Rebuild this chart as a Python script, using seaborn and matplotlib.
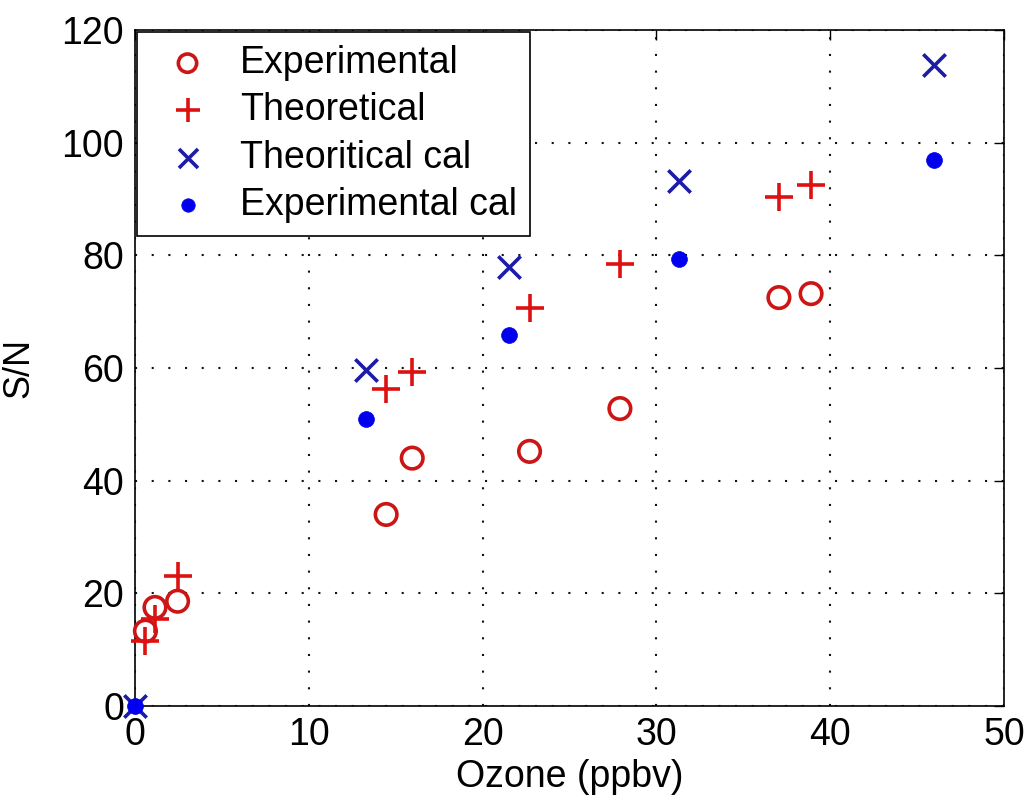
import matplotlib
matplotlib.use("Agg")
import matplotlib.pyplot as plt
import seaborn as sns
import pandas as pd

# Ozone concentration (ppbv) and signal-to-noise ratios
ozone_meas = [0.6, 1.15, 2.45, 14.45, 15.95, 22.7, 27.9, 37.05, 38.9]
sn_experimental = [13.3, 17.5, 18.6, 34.0, 44.0, 45.2, 52.8, 72.5, 73.2]
sn_theoretical = [11.5, 15.5, 23.0, 56.3, 59.3, 70.6, 78.4, 90.3, 92.5]

ozone_cal = [0.0, 13.3, 21.5, 31.3, 46.0]
sn_theoretical_cal = [0.0, 59.6, 78.0, 93.2, 113.8]
sn_experimental_cal = [0.0, 50.9, 65.8, 79.4, 97.0]

series_names = ["Experimental", "Theoretical", "Theoritical cal", "Experimental cal"]

frames = [
    pd.DataFrame({"x": ozone_meas, "y": sn_experimental, "series": series_names[0]}),
    pd.DataFrame({"x": ozone_meas, "y": sn_theoretical, "series": series_names[1]}),
    pd.DataFrame({"x": ozone_cal, "y": sn_theoretical_cal, "series": series_names[2]}),
    pd.DataFrame({"x": ozone_cal, "y": sn_experimental_cal, "series": series_names[3]}),
]
df = pd.concat(frames, ignore_index=True)

sns.set_theme(style="white")
plt.rcParams["font.family"] = ["Liberation Sans", "DejaVu Sans"]
plt.rcParams["text.color"] = "black"
plt.rcParams["axes.labelcolor"] = "black"
plt.rcParams["xtick.color"] = "black"
plt.rcParams["ytick.color"] = "black"

fig = plt.figure(figsize=(10.29, 8.0), dpi=100)
ax = fig.add_axes([135 / 1029, 1 - 706 / 800, (1004 - 135) / 1029, (706 - 30) / 800])

styles = {
    "Experimental": dict(marker="o", s=240, facecolor="none", edgecolor="#cc1515", linewidth=2.6),
    "Theoretical": dict(marker="+", s=420, color="#dd1111", linewidth=2.6),
    "Theoritical cal": dict(marker="x", s=260, color="#1c1ca8", linewidth=2.6),
    "Experimental cal": dict(marker="o", s=130, color="#0000ee", edgecolor="#0000ee", linewidth=0.5),
}

for name in series_names:
    sub = df[df["series"] == name]
    sns.scatterplot(data=sub, x="x", y="y", ax=ax, label=name, zorder=3,
                    clip_on=False, **styles[name])

ax.set_xlim(0, 50)
ax.set_ylim(0, 120)
ax.set_xticks(range(0, 51, 10))
ax.set_yticks(range(0, 121, 20))
ax.grid(True, linestyle=(0, (1, 7)), color="#111111", linewidth=1.5)
ax.set_axisbelow(True)

for sp in ax.spines.values():
    sp.set_visible(True)
    sp.set_color("black")
    sp.set_linewidth(1.2)

ax.tick_params(axis="both", direction="in", length=7, width=1.0, labelsize=27,
               top=True, right=True, color="black", pad=8)
ax.set_xlabel("Ozone (ppbv)", fontsize=27, labelpad=4)
ax.set_ylabel("S/N", fontsize=26, labelpad=18)

leg = ax.legend(loc="upper left", fontsize=27, frameon=True, fancybox=False,
                borderaxespad=0.05, handletextpad=0.4, labelspacing=0.3,
                borderpad=0.35, markerscale=0.85)
leg.get_frame().set_edgecolor("black")
leg.get_frame().set_linewidth(1.2)
leg.get_frame().set_alpha(1.0)

fig.savefig("out.png", dpi=100)
